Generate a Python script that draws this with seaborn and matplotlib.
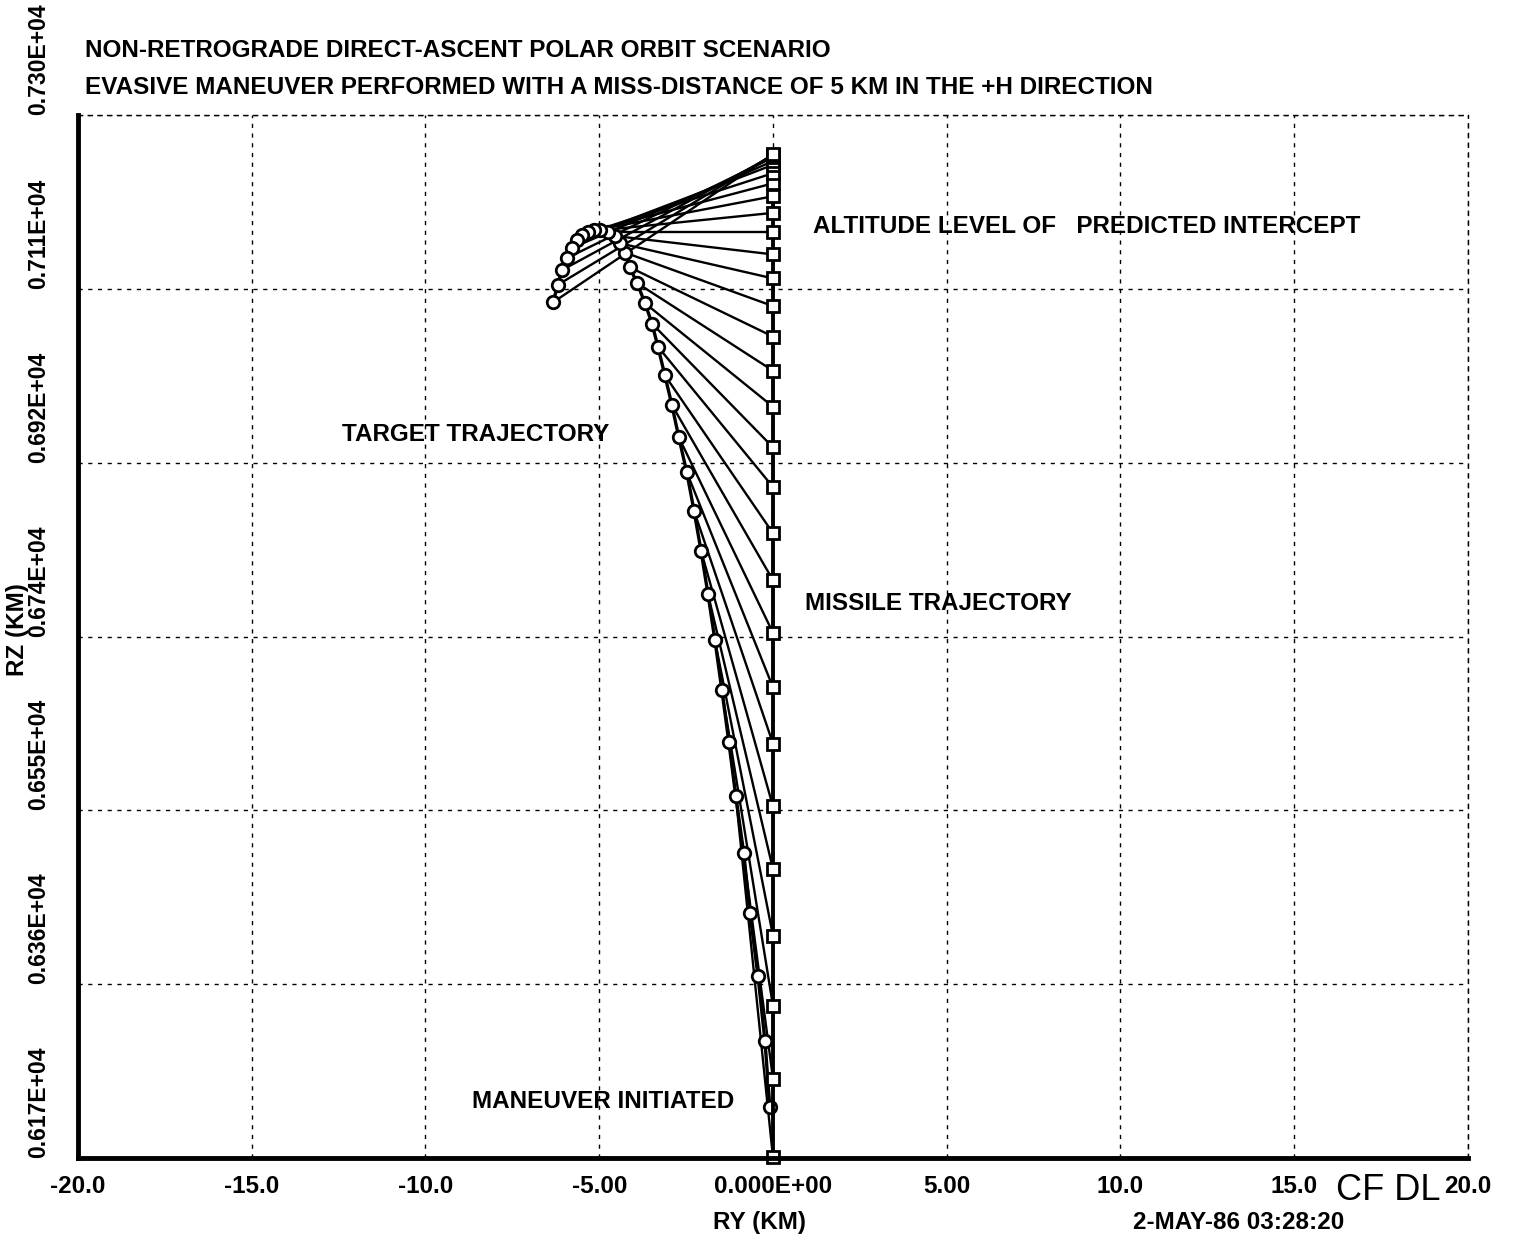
import matplotlib
matplotlib.use("Agg")
import pandas as pd
import seaborn as sns
import matplotlib.pyplot as plt
from matplotlib import font_manager

# missile positions (squares), climbing along RY = 0
missile_ry = [0.0, 0.0, 0.0, 0.0, 0.0, 0.0, 0.0, 0.0, 0.0, 0.0,
              0.0, 0.0, 0.0, 0.0, 0.0, 0.0, 0.0, 0.0, 0.0, 0.0,
              0.0, 0.0, 0.0, 0.0, 0.0, 0.0, 0.0, 0.0, 0.0, 0.0]
missile_rz = [6171, 6256, 6335, 6411, 6483, 6551, 6619, 6680, 6739, 6796,
              6847, 6897, 6940, 6984, 7023, 7060, 7093, 7123, 7149, 7173,
              7194, 7212, 7226, 7237, 7246, 7250, 7254, 7256, 7257, 7257.5]

# target positions (circles) after the maneuver
target_ry = [-0.09, -0.23, -0.43, -0.66, -0.84, -1.07, -1.27, -1.47, -1.67, -1.87,
             -2.07, -2.27, -2.48, -2.71, -2.91, -3.11, -3.31, -3.48, -3.68, -3.91,
             -4.12, -4.26, -4.40, -4.55, -4.75, -4.98, -5.15, -5.32, -5.50, -5.64,
             -5.78, -5.93, -6.07, -6.19, -6.33]
target_rz = [6225, 6297, 6367, 6435, 6500, 6562, 6621, 6677, 6731, 6781,
             6828, 6871, 6913, 6951, 6986, 7018, 7049, 7074, 7096, 7118,
             7135, 7151, 7161, 7169, 7173, 7175, 7175, 7173, 7170, 7165,
             7156, 7145, 7132, 7116, 7097]

# target point k+LAG is joined to missile point k
LAG = 5

x_ticks = [-20, -15, -10, -5, 0, 5, 10, 15, 20]
x_labels = ["-20.0", "-15.0", "-10.0", "-5.00", "0.000E+00", "5.00", "10.0", "15.0", "20.0"]
y_ticks = [6170, 6358.3, 6546.7, 6735, 6923.3, 7111.7, 7300]
y_labels = ["0.617E+04", "0.636E+04", "0.655E+04", "0.674E+04", "0.692E+04", "0.711E+04", "0.730E+04"]

sns.set_style("white")
names = {f.name for f in font_manager.fontManager.ttflist}
font = "Liberation Sans Narrow" if "Liberation Sans Narrow" in names else "Liberation Sans"
plt.rcParams["font.family"] = [font, "DejaVu Sans"]
plt.rcParams["font.weight"] = "bold"
plt.rcParams["text.color"] = "black"
plt.rcParams["xtick.color"] = "black"
plt.rcParams["ytick.color"] = "black"
FS = 17.5

df_missile = pd.DataFrame({"ry": missile_ry, "rz": missile_rz})
df_target = pd.DataFrame({"ry": target_ry, "rz": target_rz})

rows = []
for k in range(len(missile_rz)):
    rows.append({"pair": k, "ry": target_ry[k + LAG], "rz": target_rz[k + LAG]})
    rows.append({"pair": k, "ry": missile_ry[k], "rz": missile_rz[k]})
df_los = pd.DataFrame(rows)

fig = plt.figure(figsize=(15.22, 12.41), dpi=100)
ax = fig.add_axes([0.0512, 0.0669, 0.9133, 0.8404])

sns.lineplot(data=df_los, x="ry", y="rz", units="pair", estimator=None, sort=False,
             color="black", linewidth=1.7, ax=ax)
sns.lineplot(data=df_target, x="ry", y="rz", estimator=None, sort=False, color="black",
             linewidth=2.4, marker="o", markersize=9, markerfacecolor="white",
             markeredgecolor="black", markeredgewidth=2.0, ax=ax)
sns.lineplot(data=df_missile, x="ry", y="rz", estimator=None, sort=False, color="black",
             linewidth=2.8, marker="s", markersize=8.5, markerfacecolor="white",
             markeredgecolor="black", markeredgewidth=2.0, ax=ax)
for line in ax.lines:
    line.set_clip_on(False)

ax.set_xlim(-20, 20)
ax.set_ylim(6170, 7300)
ax.set_xticks(x_ticks)
ax.set_xticklabels(x_labels, fontsize=FS, fontweight="bold")
ax.set_yticks(y_ticks)
ax.set_yticklabels(y_labels, fontsize=16.5, fontweight="bold", rotation=90, va="bottom")
ax.set_xlabel("")
ax.set_ylabel("")
ax.tick_params(axis="both", direction="out", length=8, width=2.5, color="black")
ax.tick_params(axis="x", pad=4)
ax.tick_params(axis="y", pad=12)

ax.grid(True, color="black", linestyle=(0, (3, 4)), linewidth=1.0)
for side in ["left", "bottom"]:
    ax.spines[side].set_linewidth(3.5)
    ax.spines[side].set_color("black")
for side in ["top", "right"]:
    ax.spines[side].set_linewidth(1.0)
    ax.spines[side].set_linestyle((0, (3, 4)))
    ax.spines[side].set_color("black")

ax.text(1.15, 7179, "ALTITUDE LEVEL OF   PREDICTED INTERCEPT", fontsize=FS, fontweight="bold", va="center")
ax.text(-12.4, 6954, "TARGET TRAJECTORY", fontsize=FS, fontweight="bold", va="center")
ax.text(0.92, 6771, "MISSILE TRAJECTORY", fontsize=FS, fontweight="bold", va="center")
ax.text(-8.66, 6231, "MANEUVER INITIATED", fontsize=FS, fontweight="bold", va="center")

fig.text(0.0558, 0.9597, "NON-RETROGRADE DIRECT-ASCENT POLAR ORBIT SCENARIO",
         fontsize=FS, fontweight="bold", va="center")
fig.text(0.0558, 0.9291, "EVASIVE MANEUVER PERFORMED WITH A MISS-DISTANCE OF 5 KM IN THE +H DIRECTION",
         fontsize=FS, fontweight="bold", va="center")
fig.text(0.4993, 0.0153, "RY (KM)", fontsize=FS, fontweight="bold", ha="center", va="center")
fig.text(0.7444, 0.0153, "2-MAY-86 03:28:20", fontsize=FS, fontweight="bold", va="center")
fig.text(0.0118, 0.4923, "RZ (KM)", fontsize=FS, fontweight="bold", rotation=90, ha="center", va="center")
fig.text(0.878, 0.0405, "CF DL", fontsize=26, fontweight="normal", va="center")

fig.savefig("out.png", dpi=100)
